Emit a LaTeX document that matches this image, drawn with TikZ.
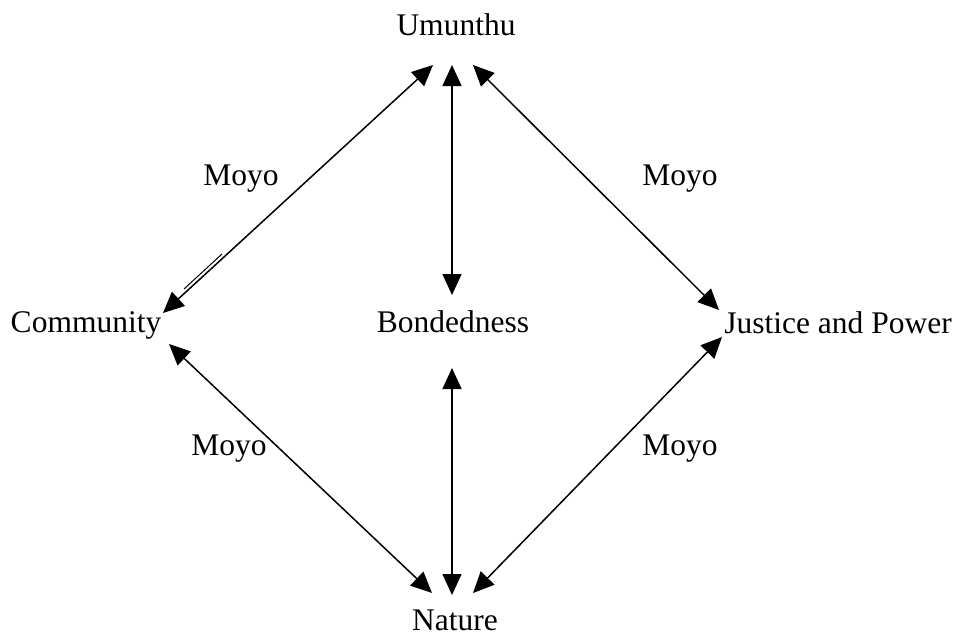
\documentclass[tikz,border=0pt]{standalone}
\usepackage{fontspec}
\setmainfont{Liberation Serif}
\usetikzlibrary{arrows.meta}
\begin{document}
\begin{tikzpicture}[x=1pt,y=-1pt,
  concept/.style={anchor=base,inner sep=0pt,font=\fontsize{31.5}{36}\selectfont},
  lbl/.style={anchor=base,inner sep=0pt,font=\fontsize{31.5}{36}\selectfont},
  link/.style={line width=1.5pt,{Triangle[length=21pt,width=19pt]}-{Triangle[length=21pt,width=19pt]}},
  trace/.style={line width=1pt}]
\useasboundingbox (0,0) rectangle (957,635);

% concepts
\node[concept] (umunthu) at (456,35) {Umunthu};
\node[concept] (community) at (86,332) {Community};
\node[concept] (bonded) at (453,332) {Bondedness};
\node[concept] (justice) at (838,333) {Justice and Power};
\node[concept] (nature) at (455,630) {Nature};

% arrow ends around each concept
\coordinate (uC) at (433,65);
\coordinate (uB) at (452,65);
\coordinate (uJ) at (473,65);
\coordinate (cU) at (163,313);
\coordinate (cN) at (169,344);
\coordinate (bU) at (452,295);
\coordinate (bN) at (452,368);
\coordinate (jU) at (719,310);
\coordinate (jN) at (722,337);
\coordinate (nC) at (432,593);
\coordinate (nB) at (452,595);
\coordinate (nJ) at (473,593);

% links
\draw[link] (cU) -- (uC);
\draw[link] (bU) -- (uB);
\draw[link] (jU) -- (uJ);
\draw[link] (cN) -- (nC);
\draw[link] (bN) -- (nB);
\draw[link] (jN) -- (nJ);

% doubled stroke beside the Community arrow
\coordinate (dA) at (222,254);
\coordinate (dB) at (184,289);
\draw[trace] (dA) -- (dB);

% labels
\node[lbl] (m1) at (241,185) {Moyo};
\node[lbl] (m2) at (680,185) {Moyo};
\node[lbl] (m3) at (229,455) {Moyo};
\node[lbl] (m4) at (680,455) {Moyo};
\end{tikzpicture}
\end{document}
